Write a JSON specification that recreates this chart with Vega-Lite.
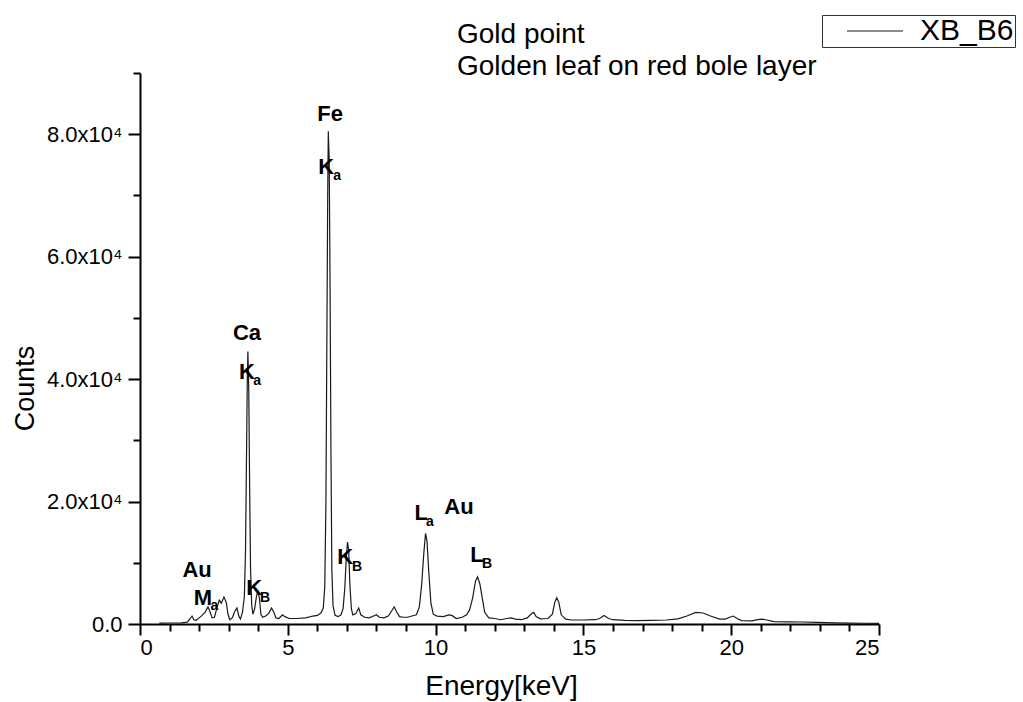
{
  "$schema": "https://vega.github.io/schema/vega-lite/v6.json",
  "width": 739,
  "height": 551,
  "autosize": {"type": "none"},
  "padding": {"left": 140, "top": 73, "right": 144, "bottom": 78},
  "background": "white",
  "config": {
    "font": "Liberation Sans",
    "view": {"stroke": null},
    "axis": {"grid": false, "domainColor": "black", "tickColor": "black", "labelColor": "black", "titleColor": "black", "labelFont": "Liberation Sans", "titleFont": "Liberation Sans", "titleFontWeight": "normal"}
  },
  "title": {
    "text": ["Gold point", "Golden leaf on red bole layer"],
    "anchor": "start",
    "frame": "group",
    "dx": 317,
    "offset": -66,
    "fontSize": 28,
    "lineHeight": 32,
    "fontWeight": "normal",
    "font": "Liberation Sans",
    "color": "black"
  },
  "datasets": {
    "spectrum": [
      {"energy": 0.65, "counts": 150}, {"energy": 1.0, "counts": 160}, {"energy": 1.4, "counts": 180},
      {"energy": 1.6, "counts": 300}, {"energy": 1.7, "counts": 900}, {"energy": 1.76, "counts": 1300},
      {"energy": 1.82, "counts": 700}, {"energy": 1.9, "counts": 600}, {"energy": 2.0, "counts": 1000},
      {"energy": 2.1, "counts": 1400}, {"energy": 2.2, "counts": 1900}, {"energy": 2.3, "counts": 2800},
      {"energy": 2.37, "counts": 2000}, {"energy": 2.44, "counts": 1000}, {"energy": 2.52, "counts": 1100},
      {"energy": 2.6, "counts": 2600}, {"energy": 2.68, "counts": 3900}, {"energy": 2.75, "counts": 3400},
      {"energy": 2.84, "counts": 4400}, {"energy": 2.92, "counts": 3500}, {"energy": 2.98, "counts": 1500},
      {"energy": 3.04, "counts": 700}, {"energy": 3.12, "counts": 1000}, {"energy": 3.2, "counts": 2000},
      {"energy": 3.28, "counts": 2600}, {"energy": 3.35, "counts": 1200}, {"energy": 3.4, "counts": 800},
      {"energy": 3.47, "counts": 2000}, {"energy": 3.53, "counts": 4500}, {"energy": 3.57, "counts": 12000},
      {"energy": 3.6, "counts": 26000}, {"energy": 3.63, "counts": 40000}, {"energy": 3.65, "counts": 44500},
      {"energy": 3.68, "counts": 38000}, {"energy": 3.71, "counts": 22000}, {"energy": 3.74, "counts": 9000},
      {"energy": 3.78, "counts": 3000}, {"energy": 3.82, "counts": 1600}, {"energy": 3.88, "counts": 2500},
      {"energy": 3.94, "counts": 4500}, {"energy": 3.99, "counts": 5400}, {"energy": 4.04, "counts": 4200},
      {"energy": 4.09, "counts": 1600}, {"energy": 4.15, "counts": 1100}, {"energy": 4.25, "counts": 1300},
      {"energy": 4.35, "counts": 1700}, {"energy": 4.45, "counts": 2600}, {"energy": 4.52, "counts": 2000},
      {"energy": 4.6, "counts": 1000}, {"energy": 4.7, "counts": 900}, {"energy": 4.82, "counts": 1500},
      {"energy": 4.9, "counts": 1200}, {"energy": 5.05, "counts": 900}, {"energy": 5.3, "counts": 900},
      {"energy": 5.6, "counts": 1000}, {"energy": 5.85, "counts": 1300}, {"energy": 6.0, "counts": 1400},
      {"energy": 6.12, "counts": 1800}, {"energy": 6.2, "counts": 2600}, {"energy": 6.25, "counts": 6000},
      {"energy": 6.29, "counts": 20000}, {"energy": 6.32, "counts": 45000}, {"energy": 6.35, "counts": 70000},
      {"energy": 6.37, "counts": 80500}, {"energy": 6.4, "counts": 76000}, {"energy": 6.43, "counts": 55000},
      {"energy": 6.46, "counts": 28000}, {"energy": 6.49, "counts": 9000}, {"energy": 6.53, "counts": 3000},
      {"energy": 6.6, "counts": 1400}, {"energy": 6.7, "counts": 1200}, {"energy": 6.8, "counts": 1500},
      {"energy": 6.87, "counts": 2500}, {"energy": 6.93, "counts": 6000}, {"energy": 6.98, "counts": 11000},
      {"energy": 7.02, "counts": 13400}, {"energy": 7.06, "counts": 12000}, {"energy": 7.1, "counts": 6500},
      {"energy": 7.15, "counts": 2500}, {"energy": 7.2, "counts": 1500}, {"energy": 7.3, "counts": 1700},
      {"energy": 7.4, "counts": 2600}, {"energy": 7.47, "counts": 1500}, {"energy": 7.6, "counts": 1100},
      {"energy": 7.75, "counts": 1000}, {"energy": 7.9, "counts": 1300}, {"energy": 8.0, "counts": 1500},
      {"energy": 8.1, "counts": 1100}, {"energy": 8.25, "counts": 1000}, {"energy": 8.4, "counts": 1300},
      {"energy": 8.52, "counts": 2200}, {"energy": 8.6, "counts": 2800}, {"energy": 8.68, "counts": 2000},
      {"energy": 8.78, "counts": 1200}, {"energy": 8.9, "counts": 1100}, {"energy": 9.05, "counts": 1100},
      {"energy": 9.2, "counts": 1300}, {"energy": 9.35, "counts": 1500}, {"energy": 9.45, "counts": 2800},
      {"energy": 9.53, "counts": 6500}, {"energy": 9.6, "counts": 11500}, {"energy": 9.66, "counts": 14800},
      {"energy": 9.71, "counts": 13500}, {"energy": 9.77, "counts": 8500}, {"energy": 9.84, "counts": 3500},
      {"energy": 9.92, "counts": 1600}, {"energy": 10.05, "counts": 1300}, {"energy": 10.26, "counts": 1200},
      {"energy": 10.45, "counts": 1500}, {"energy": 10.55, "counts": 1400}, {"energy": 10.7, "counts": 900},
      {"energy": 10.9, "counts": 1100}, {"energy": 11.05, "counts": 1500}, {"energy": 11.15, "counts": 2300},
      {"energy": 11.25, "counts": 4200}, {"energy": 11.35, "counts": 7000}, {"energy": 11.42, "counts": 7700},
      {"energy": 11.5, "counts": 6500}, {"energy": 11.58, "counts": 4200}, {"energy": 11.66, "counts": 1900},
      {"energy": 11.8, "counts": 1000}, {"energy": 12.0, "counts": 900}, {"energy": 12.2, "counts": 700},
      {"energy": 12.4, "counts": 900}, {"energy": 12.55, "counts": 1000}, {"energy": 12.7, "counts": 800},
      {"energy": 12.9, "counts": 700}, {"energy": 13.1, "counts": 1000}, {"energy": 13.25, "counts": 1700},
      {"energy": 13.32, "counts": 1900}, {"energy": 13.4, "counts": 1200}, {"energy": 13.55, "counts": 850},
      {"energy": 13.8, "counts": 900}, {"energy": 13.95, "counts": 1600}, {"energy": 14.03, "counts": 3500},
      {"energy": 14.1, "counts": 4300}, {"energy": 14.17, "counts": 3500}, {"energy": 14.25, "counts": 1500},
      {"energy": 14.4, "counts": 800}, {"energy": 14.6, "counts": 650}, {"energy": 15.0, "counts": 650},
      {"energy": 15.4, "counts": 700}, {"energy": 15.55, "counts": 900}, {"energy": 15.7, "counts": 1400},
      {"energy": 15.85, "counts": 900}, {"energy": 16.0, "counts": 700}, {"energy": 16.4, "counts": 600},
      {"energy": 16.8, "counts": 550}, {"energy": 17.3, "counts": 600}, {"energy": 17.8, "counts": 650},
      {"energy": 18.2, "counts": 850}, {"energy": 18.5, "counts": 1300}, {"energy": 18.8, "counts": 1900},
      {"energy": 19.05, "counts": 1800}, {"energy": 19.3, "counts": 1300}, {"energy": 19.6, "counts": 800},
      {"energy": 19.8, "counts": 800}, {"energy": 19.95, "counts": 1100}, {"energy": 20.07, "counts": 1300},
      {"energy": 20.2, "counts": 900}, {"energy": 20.35, "counts": 550}, {"energy": 20.7, "counts": 500},
      {"energy": 20.9, "counts": 700}, {"energy": 21.05, "counts": 800}, {"energy": 21.2, "counts": 650},
      {"energy": 21.45, "counts": 400}, {"energy": 21.9, "counts": 350}, {"energy": 22.4, "counts": 330},
      {"energy": 22.9, "counts": 250}, {"energy": 23.5, "counts": 200}, {"energy": 24.0, "counts": 150},
      {"energy": 24.5, "counts": 120}, {"energy": 25.0, "counts": 100}
    ],
    "labels": [
      {"energy": 6.43, "counts": 83300, "text": "Fe"},
      {"energy": 6.30, "counts": 74600, "text": "K"},
      {"energy": 3.62, "counts": 47600, "text": "Ca"},
      {"energy": 3.62, "counts": 41200, "text": "K"},
      {"energy": 1.93, "counts": 8820, "text": "Au"},
      {"energy": 2.13, "counts": 4250, "text": "M"},
      {"energy": 3.86, "counts": 5880, "text": "K"},
      {"energy": 6.94, "counts": 10950, "text": "K"},
      {"energy": 9.51, "counts": 18130, "text": "L"},
      {"energy": 10.79, "counts": 19110, "text": "Au"},
      {"energy": 11.40, "counts": 11270, "text": "L"}
    ],
    "subs": [
      {"energy": 6.67, "counts": 73100, "text": "a"},
      {"energy": 3.96, "counts": 39700, "text": "a"},
      {"energy": 2.52, "counts": 2940, "text": "a"},
      {"energy": 4.23, "counts": 4250, "text": "B"},
      {"energy": 7.34, "counts": 9310, "text": "B"},
      {"energy": 9.81, "counts": 16660, "text": "a"},
      {"energy": 11.74, "counts": 9800, "text": "B"}
    ]
  },
  "resolve": {"axis": {"x": "independent", "y": "independent"}},
  "layer": [
    {
      "data": {"name": "spectrum"},
      "mark": {"type": "line", "strokeWidth": 1.2, "clip": true},
      "encoding": {
        "x": {
          "field": "energy", "type": "quantitative",
          "scale": {"domain": [0, 25], "nice": false, "zero": false},
          "axis": {
            "orient": "bottom", "values": [0, 5, 10, 15, 20, 25], "format": "d",
            "tickSize": 11, "tickWidth": 2, "domainWidth": 2, "labelFontSize": 22, "labelPadding": 2,
            "title": "Energy[keV]", "titleFontSize": 28, "titleX": 361, "titleY": 70,
            "titleAlign": "center", "titleBaseline": "alphabetic"
          }
        },
        "y": {
          "field": "counts", "type": "quantitative",
          "scale": {"domain": [0, 90000], "nice": false},
          "axis": {
            "orient": "left", "values": [0, 20000, 40000, 60000, 80000],
            "labelExpr": "datum.value == 0 ? '0.0' : format(datum.value / 10000, '.1f') + 'x10⁴'",
            "tickSize": 12, "tickWidth": 2, "domainWidth": 2, "labelFontSize": 22, "labelPadding": 6,
            "title": "Counts", "titleFontSize": 27, "titleX": -107, "titleY": 315,
            "titleAngle": -90, "titleAlign": "center", "titleBaseline": "alphabetic"
          }
        },
        "color": {
          "datum": "XB_B6", "type": "nominal",
          "scale": {"range": ["#1a1a1a"]},
          "legend": {
            "title": null, "orient": "none", "legendX": 682, "legendY": -58,
            "strokeColor": "#333", "fillColor": "white", "padding": 1,
            "symbolType": "M-4,0H4", "symbolSize": 196, "symbolStrokeWidth": 1, "symbolOffset": 37,
            "labelFontSize": 30, "labelOffset": 30, "labelColor": "black", "labelFont": "Liberation Sans"
          }
        }
      }
    },
    {
      "data": {"name": "labels"},
      "mark": {"type": "text", "fontSize": 22, "fontWeight": "bold", "font": "Liberation Sans", "color": "black", "align": "center", "baseline": "middle"},
      "encoding": {
        "x": {
          "field": "energy", "type": "quantitative",
          "axis": {
            "orient": "bottom", "values": [1, 2, 3, 4, 6, 7, 8, 9, 11, 12, 13, 14, 16, 17, 18, 19, 21, 22, 23, 24],
            "labels": false, "domain": false, "tickSize": 7, "tickWidth": 2, "title": null
          }
        },
        "y": {
          "field": "counts", "type": "quantitative",
          "axis": {
            "orient": "left", "values": [10000, 30000, 50000, 70000, 90000],
            "labels": false, "domain": false, "tickSize": 7, "tickWidth": 2, "title": null
          }
        },
        "text": {"field": "text"}
      }
    },
    {
      "data": {"name": "subs"},
      "mark": {"type": "text", "fontSize": 14, "fontWeight": "bold", "font": "Liberation Sans", "color": "black", "align": "center", "baseline": "middle"},
      "encoding": {
        "x": {"field": "energy", "type": "quantitative", "axis": null},
        "y": {"field": "counts", "type": "quantitative", "axis": null},
        "text": {"field": "text"}
      }
    }
  ]
}
